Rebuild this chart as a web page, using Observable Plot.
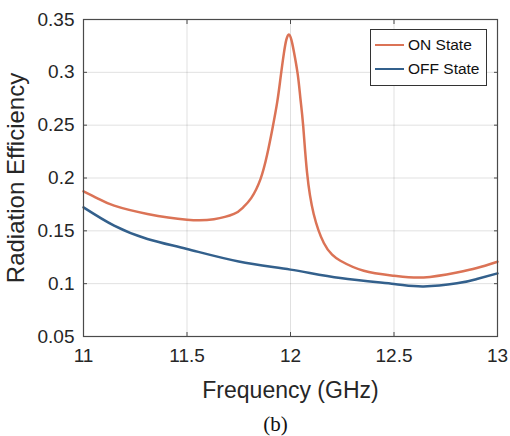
<!DOCTYPE html>
<html>
<head>
<meta charset="utf-8">
<script src="https://cdn.jsdelivr.net/npm/d3@7"></script>
<script src="https://cdn.jsdelivr.net/npm/@observablehq/plot@0.6"></script>
<style>
  body { margin: 0; background: #fff; }
  #wrap { position: relative; width: 510px; height: 436px; font-family: "Liberation Sans", Arial, sans-serif; }
  .legend { position: absolute; left: 370px; top: 29px; width: 115px; height: 55px; border: 1px solid #333; background: #fff; box-sizing: content-box; }
  .row { position: absolute; left: 4px; height: 20px; display: flex; align-items: center; }
  .swatch { width: 29px; height: 0; border-top: 2.5px solid; margin-right: 4px; }
  .lbl { font-size: 15.5px; color: #111; white-space: nowrap; }
</style>
</head>
<body>
<div id="wrap"></div>
<script>
// ---- data ----
const freqOn = [11.0, 11.07, 11.148, 11.309, 11.5, 11.63, 11.727, 11.77, 11.81, 11.855, 11.887, 11.912, 11.936, 11.952, 11.968, 11.98, 11.992, 12.004, 12.016, 12.035, 12.048, 12.061, 12.08, 12.112, 12.161, 12.201, 12.241, 12.354, 12.5, 12.643, 12.804, 12.9, 13.0];
const effOn  = [0.1874, 0.1805, 0.1738, 0.166, 0.1606, 0.161, 0.166, 0.172, 0.181, 0.199, 0.222, 0.246, 0.272, 0.295, 0.318, 0.331, 0.3358, 0.331, 0.320, 0.298, 0.275, 0.25, 0.205, 0.166, 0.1385, 0.1274, 0.1217, 0.1122, 0.1075, 0.1059, 0.1106, 0.1148, 0.1208];
const freqOff = [11.0, 11.148, 11.309, 11.5, 11.75, 12.0, 12.241, 12.5, 12.643, 12.804, 12.9, 13.0];
const effOff  = [0.1722, 0.1549, 0.1423, 0.1328, 0.121, 0.1133, 0.1053, 0.0997, 0.0974, 0.1003, 0.1044, 0.1097];

const seriesNames = ["ON State", "OFF State"];
const seriesColors = ["#DB7356", "#33608C"];

const xTicks = [11, 11.5, 12, 12.5, 13];
const xTickLabels = ["11", "11.5", "12", "12.5", "13"];
const yTicks = [0.05, 0.1, 0.15, 0.2, 0.25, 0.3, 0.35];
const yTickLabels = ["0.05", "0.1", "0.15", "0.2", "0.25", "0.3", "0.35"];

const xTitle = "Frequency (GHz)";
const yTitle = "Radiation Efficiency";
const caption = "(b)";

// ---- build rows ----
const rows = [
  ...freqOn.map((f, i) => ({f, v: effOn[i], s: seriesNames[0]})),
  ...freqOff.map((f, i) => ({f, v: effOff[i], s: seriesNames[1]}))
];

const axisColor = "#4a4a4a";

const chart = Plot.plot({
  width: 510,
  height: 436,
  marginLeft: 83,
  marginRight: 13,
  marginTop: 19,
  marginBottom: 100,
  style: {fontFamily: "'Liberation Sans', Arial, sans-serif", fontSize: "19px", color: "#262626", background: "#fff", overflow: "visible"},
  x: {domain: [11, 13]},
  y: {domain: [0.05, 0.35]},
  color: {domain: seriesNames, range: seriesColors},
  marks: [
    Plot.gridX(xTicks, {stroke: "#000", strokeOpacity: 0.12, strokeWidth: 1}),
    Plot.gridY(yTicks, {stroke: "#000", strokeOpacity: 0.12, strokeWidth: 1}),
    Plot.line(rows, {x: "f", y: "v", z: "s", stroke: "s", strokeWidth: 2.5, curve: "natural"}),
    Plot.frame({stroke: axisColor, strokeWidth: 1.2}),
    // inward ticks on all four sides
    Plot.axisX(xTicks, {anchor: "bottom", tickSize: -4, fill: "none", stroke: axisColor, label: null}),
    Plot.axisX(xTicks, {anchor: "top", tickSize: -4, fill: "none", stroke: axisColor, label: null}),
    Plot.axisY(yTicks, {anchor: "left", tickSize: -4, fill: "none", stroke: axisColor, label: null}),
    Plot.axisY(yTicks, {anchor: "right", tickSize: -4, fill: "none", stroke: axisColor, label: null}),
    // tick labels
    Plot.axisX(xTicks, {anchor: "bottom", tickSize: 0, tickPadding: 12, fontSize: 19, fill: "#262626",
      tickFormat: d => xTickLabels[xTicks.indexOf(d)], label: null}),
    Plot.axisY(yTicks, {anchor: "left", tickSize: 0, tickPadding: 9, fontSize: 19, fill: "#262626",
      tickFormat: d => yTickLabels[yTicks.indexOf(d)], label: null}),
    // titles
    Plot.text([xTitle], {frameAnchor: "bottom", dy: 54, fontSize: 23, fill: "#262626", lineAnchor: "middle", textAnchor: "middle"}),
    Plot.text([yTitle], {frameAnchor: "left", dx: -67, rotate: -90, fontSize: 24, fill: "#262626", lineAnchor: "middle", textAnchor: "middle"}),
    Plot.text([caption], {frameAnchor: "bottom", dx: -15, dy: 88, fontSize: 21, fill: "#111",
      fontFamily: "'Liberation Serif', 'Times New Roman', serif", lineAnchor: "middle", textAnchor: "middle"})
  ]
});

const wrap = document.getElementById("wrap");
wrap.appendChild(chart);

// legend
const legend = document.createElement("div");
legend.className = "legend";
const rowTops = [5, 29];
seriesNames.forEach((name, i) => {
  const r = document.createElement("div");
  r.className = "row";
  r.style.top = rowTops[i] + "px";
  const sw = document.createElement("div");
  sw.className = "swatch";
  sw.style.borderTopColor = seriesColors[i];
  const t = document.createElement("span");
  t.className = "lbl";
  t.textContent = name;
  r.appendChild(sw);
  r.appendChild(t);
  legend.appendChild(r);
});
wrap.appendChild(legend);
</script>
</body>
</html>
